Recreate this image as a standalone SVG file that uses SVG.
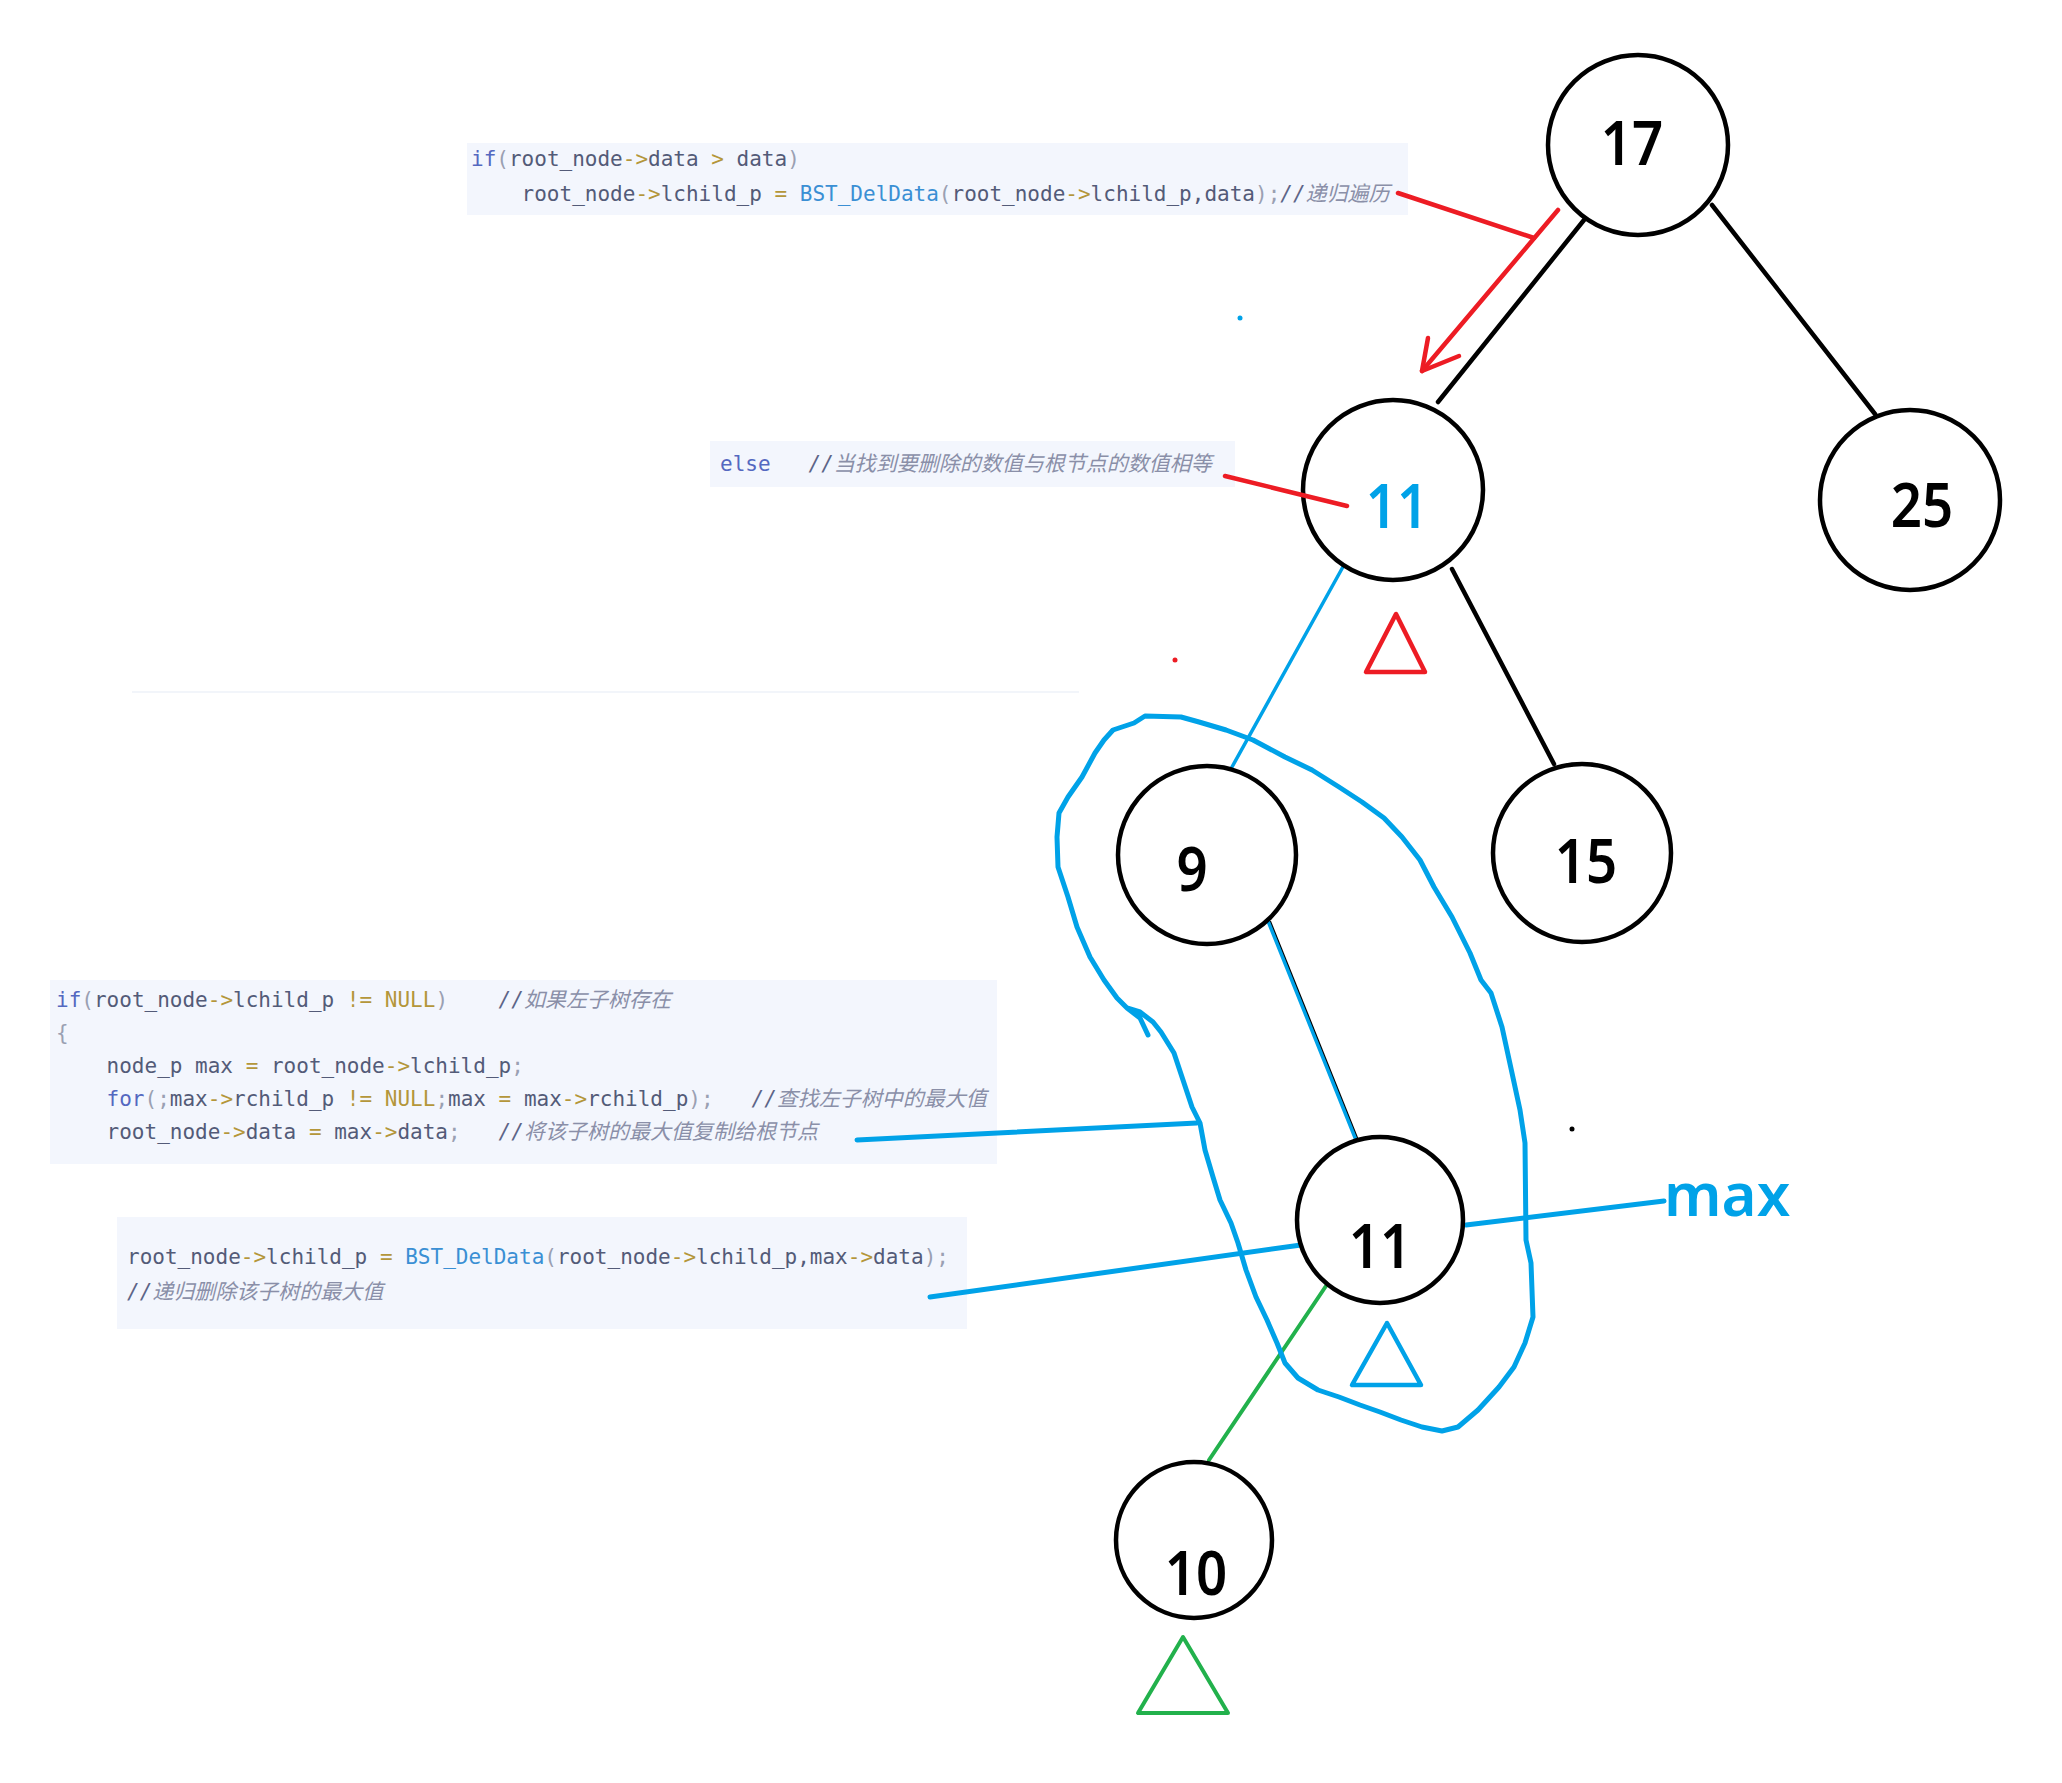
<svg xmlns="http://www.w3.org/2000/svg" width="2062" height="1783" viewBox="0 0 2062 1783">
<style>
.box{fill:#f3f6fd}
.code{font-family:"DejaVu Sans Mono","Liberation Mono","Noto Sans CJK SC",monospace;font-size:21px;fill:#535b78;white-space:pre}
.kw{fill:#5468c0}
.op{fill:#b4963a}
.p{fill:#9aa0b2}
.fn{fill:#3a8fd4}
.nl{fill:#b4963a}
.cm{fill:#8a8fa8;font-style:italic;font-family:"DejaVu Sans Mono","Noto Sans CJK SC",monospace}
.sl{fill:#5c6488;font-style:italic}
.node{fill:#fff;stroke:#000;stroke-width:4.5}
.num{font-family:"Noto Sans","Open Sans","Liberation Sans",sans-serif;font-size:62px;font-weight:600;fill:#000;text-anchor:middle}
.blk{stroke:#000;stroke-width:4.5;fill:none;stroke-linecap:round}
.blu{stroke:#00a2e8;fill:none;stroke-linecap:round;stroke-linejoin:round}
.red{stroke:#ed1c24;fill:none;stroke-width:4.5;stroke-linecap:round;stroke-linejoin:round}
.grn{stroke:#22b14c;fill:none;stroke-width:4;stroke-linecap:round;stroke-linejoin:round}
</style>

<line x1="132" y1="692" x2="1079" y2="692" stroke="#eef2f8" stroke-width="1.5"/>

<g id="code1">
<rect class="box" x="467" y="143" width="941" height="72"/>
<text class="code" x="471" y="166" xml:space="preserve"><tspan class="kw">if</tspan><tspan class="p">(</tspan>root_node<tspan class="op">-&gt;</tspan>data <tspan class="op">&gt;</tspan> data<tspan class="p">)</tspan></text>
<text class="code" x="471" y="201" xml:space="preserve">    root_node<tspan class="op">-&gt;</tspan>lchild_p <tspan class="op">=</tspan> <tspan class="fn">BST_DelData</tspan><tspan class="p">(</tspan>root_node<tspan class="op">-&gt;</tspan>lchild_p,data<tspan class="p">);</tspan><tspan class="sl">//</tspan><tspan class="cm">递归遍历</tspan></text>
</g>

<g id="code2">
<rect class="box" x="710" y="441" width="525" height="46"/>
<text class="code" x="720" y="471" xml:space="preserve"><tspan class="kw">else</tspan>   <tspan class="sl">//</tspan><tspan class="cm">当找到要删除的数值与根节点的数值相等</tspan></text>
</g>

<g id="code3">
<rect class="box" x="50" y="980" width="947" height="184"/>
<text class="code" x="56" y="1007" xml:space="preserve"><tspan class="kw">if</tspan><tspan class="p">(</tspan>root_node<tspan class="op">-&gt;</tspan>lchild_p <tspan class="op">!=</tspan> <tspan class="nl">NULL</tspan><tspan class="p">)</tspan>    <tspan class="sl">//</tspan><tspan class="cm">如果左子树存在</tspan></text>
<text class="code" x="56" y="1040" xml:space="preserve"><tspan class="p">{</tspan></text>
<text class="code" x="56" y="1073" xml:space="preserve">    node_p max <tspan class="op">=</tspan> root_node<tspan class="op">-&gt;</tspan>lchild_p<tspan class="p">;</tspan></text>
<text class="code" x="56" y="1106" xml:space="preserve">    <tspan class="kw">for</tspan><tspan class="p">(;</tspan>max<tspan class="op">-&gt;</tspan>rchild_p <tspan class="op">!=</tspan> <tspan class="nl">NULL</tspan><tspan class="p">;</tspan>max <tspan class="op">=</tspan> max<tspan class="op">-&gt;</tspan>rchild_p<tspan class="p">);</tspan>   <tspan class="sl">//</tspan><tspan class="cm">查找左子树中的最大值</tspan></text>
<text class="code" x="56" y="1139" xml:space="preserve">    root_node<tspan class="op">-&gt;</tspan>data <tspan class="op">=</tspan> max<tspan class="op">-&gt;</tspan>data<tspan class="p">;</tspan>   <tspan class="sl">//</tspan><tspan class="cm">将该子树的最大值复制给根节点</tspan></text>
</g>

<g id="code4">
<rect class="box" x="117" y="1217" width="850" height="112"/>
<text class="code" x="127" y="1264" xml:space="preserve">root_node<tspan class="op">-&gt;</tspan>lchild_p <tspan class="op">=</tspan> <tspan class="fn">BST_DelData</tspan><tspan class="p">(</tspan>root_node<tspan class="op">-&gt;</tspan>lchild_p,max<tspan class="op">-&gt;</tspan>data<tspan class="p">);</tspan></text>
<text class="code" x="127" y="1299" xml:space="preserve"><tspan class="sl">//</tspan><tspan class="cm">递归删除该子树的最大值</tspan></text>
</g>

<g id="connectors">
<line class="blk" x1="1584" y1="220" x2="1438" y2="402"/>
<line class="blk" x1="1712" y1="205" x2="1875" y2="414"/>
<line class="blk" x1="1452" y1="569" x2="1554" y2="764"/>
<line class="blu" stroke-width="3.5" x1="1344" y1="565" x2="1232" y2="767"/>
<line stroke="#000" stroke-width="2" x1="1270" y1="921" x2="1358" y2="1140"/>
<line class="blu" stroke-width="3.5" x1="1268" y1="921" x2="1356" y2="1140"/>
<line class="grn" x1="1328" y1="1283" x2="1209" y2="1460"/>
<line class="red" x1="1398" y1="193" x2="1534" y2="238"/>
<polyline class="red" points="1558,210 1422,371"/>
<polyline class="red" points="1428,338 1422,371 1459,356"/>
<line class="blu" stroke-width="5" x1="857" y1="1140" x2="1197" y2="1123"/>
<line class="blu" stroke-width="5" x1="930" y1="1297" x2="1301" y2="1245"/>
<line class="blu" stroke-width="5" x1="1466" y1="1225" x2="1664" y2="1201"/>
<path class="blu" stroke-width="5" d="M1148,1035 L1140,1018 L1127,1008 L1117,998 L1104,980 L1090,957 L1077,927 L1068,897 L1058,867 L1057,837 L1059,813 L1068,797 L1082,777 L1095,753 L1104,740 L1113,730 L1134,723 L1145,716 L1181,717 L1199,722 L1226,730 L1253,740 L1285,757 L1312,770 L1339,787 L1362,802 L1384,818 L1402,837 L1420,860 L1434,887 L1452,917 L1470,953 L1481,980 L1491,993 L1502,1027 L1512,1073 L1520,1110 L1525,1143 L1526,1240 L1531,1263 L1533,1317 L1525,1343 L1514,1367 L1499,1387 L1478,1410 L1458,1427 L1442,1431 L1422,1427 L1401,1420 L1380,1412 L1360,1405 L1339,1397 L1318,1390 L1298,1378 L1285,1363 L1277,1343 L1267,1320 L1256,1297 L1246,1270 L1238,1243 L1231,1223 L1220,1200 L1213,1177 L1205,1150 L1200,1123 L1192,1107 L1184,1083 L1174,1053 L1161,1032 L1153,1022 L1140,1012 L1127,1008"/>
</g>

<g id="node17"><circle class="node" cx="1638" cy="145" r="90"/><text class="num" transform="translate(1632,165) scale(0.88,1)">17</text></g>
<g id="node11top"><circle class="node" cx="1393" cy="490" r="90"/><text class="num" transform="translate(1397,528) scale(0.88,1)" style="fill:#00a2e8">11</text></g>
<g id="node25"><circle class="node" cx="1910" cy="500" r="90"/><text class="num" transform="translate(1922,527) scale(0.88,1)">25</text></g>
<g id="node9"><circle class="node" cx="1207" cy="855" r="89"/><text class="num" transform="translate(1192,891) scale(0.88,1)">9</text></g>
<g id="node15"><circle class="node" cx="1582" cy="853" r="89"/><text class="num" transform="translate(1586,883) scale(0.88,1)">15</text></g>
<g id="node11"><circle class="node" cx="1380" cy="1220" r="83"/><text class="num" transform="translate(1380,1268) scale(0.88,1)">11</text></g>
<g id="node10"><circle class="node" cx="1194" cy="1540" r="78"/><text class="num" transform="translate(1196,1595) scale(0.88,1)">10</text></g>

<g id="annotations">
<line class="red" x1="1225" y1="476" x2="1347" y2="506"/>
<polygon class="red" points="1396,614 1366,672 1425,672"/>
<polygon class="blu" stroke-width="4.5" points="1387,1323 1352,1385 1421,1385"/>
<polygon class="grn" stroke-width="4.5" points="1183,1637 1138,1713 1228,1713"/>
<text x="1664" y="1216" font-family="Noto Sans, Open Sans, sans-serif" font-size="60" font-weight="600" fill="#00a2e8">max</text>
<circle cx="1175" cy="660" r="2.5" fill="#ed1c24"/>
<circle cx="1240" cy="318" r="2.5" fill="#00a2e8"/>
<circle cx="1572" cy="1129" r="2.5" fill="#000"/>
</g>
</svg>
